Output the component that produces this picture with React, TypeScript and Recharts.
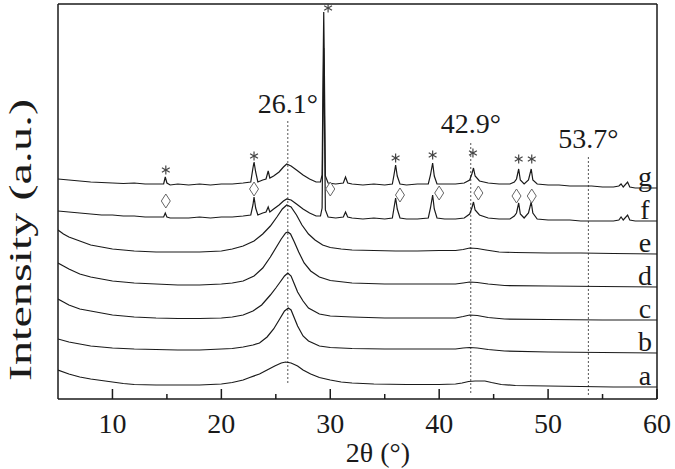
import React from 'react';
import {
  LineChart,
  Line,
  Scatter,
  XAxis,
  YAxis,
  ReferenceLine,
  Label,
} from 'recharts';

// 2θ ticks (major every 10, minor every 5)
const xTicks = [10, 15, 20, 25, 30, 35, 40, 45, 50, 55, 60];

// stacked XRD patterns, [2θ, intensity (a.u., offset)]
const traceA = [
  [5, 29], [6, 25], [7, 22], [8, 20], [9, 18.5], [10, 17], [11, 15.5], [12, 14.5], [14, 14], [16, 14],
  [18, 14], [20, 15], [21, 16.5], [22, 19], [22.6, 21.5], [23.5, 25], [24.2, 29], [24.9, 33], [25.5, 36],
  [25.9, 37], [26.4, 36], [27, 33], [27.5, 29], [28.2, 25], [29, 21.5], [30, 19], [31, 17], [32, 16],
  [34, 15], [37, 14.5], [40, 14.5], [41.5, 15], [42.1, 16], [42.7, 17.5], [43.3, 18], [44.2, 18],
  [44.8, 16.5], [45.7, 14.5], [47, 13.5], [50, 13], [53, 12.5], [56, 12], [60, 12],
];
const traceB = [
  [5, 60], [6, 57], [7, 55], [8, 53], [9, 52], [10, 51], [12, 50], [14, 49.5], [16, 49], [18, 49],
  [20, 50], [21, 50.5], [22, 52], [22.9, 54], [23.5, 56], [24.2, 62], [24.8, 70], [25.3, 79], [25.8, 88],
  [26.15, 91], [26.4, 89], [26.7, 81], [27, 73], [27.5, 63], [28, 58], [29, 53], [30, 51.5], [32, 50.5],
  [35, 50], [38, 50], [41.5, 50], [42.2, 51], [42.8, 51.5], [43.5, 51], [44.5, 49.5], [46, 48],
  [50, 47], [55, 46.5], [60, 46],
];
const traceC = [
  [5, 100], [5.5, 97], [6, 94], [7, 90], [8, 88], [9, 86], [10, 84], [11, 83], [12, 82], [14, 81],
  [16, 80.5], [18, 80.5], [20, 81], [21, 82], [22, 84], [22.9, 88], [23.7, 94], [24.5, 104], [25, 111],
  [25.4, 117], [25.8, 123], [26.1, 126], [26.4, 123], [26.7, 115], [27, 107], [27.5, 98], [28, 91],
  [29, 85], [30, 83], [32, 82], [35, 81], [38, 81], [41.5, 81], [42.2, 82.5], [42.8, 84], [43.5, 83.5],
  [44.5, 81.5], [46, 80], [50, 79.5], [55, 79], [60, 79],
];
const traceD = [
  [5, 136], [5.5, 133], [6, 130], [7, 125], [8, 122], [9, 120], [10, 118], [11, 117], [12, 116],
  [14, 115], [16, 114], [18, 114], [20, 115], [21, 116], [22, 118], [23, 123], [23.8, 131], [24.5, 142],
  [25, 151], [25.5, 160], [25.9, 166], [26.1, 167], [26.35, 165], [26.7, 157], [27.1, 147], [27.6, 136],
  [28.2, 128], [29, 122], [30, 118.5], [32, 116], [35, 115], [38, 115], [41.5, 115], [42.2, 116],
  [42.8, 117], [43.5, 116.5], [44.5, 115], [46, 113.5], [50, 113], [55, 112.5], [60, 112],
];
const traceE = [
  [5, 169], [5.5, 165], [6, 162], [7, 158], [8, 154], [9, 152], [10, 150], [11, 149], [12, 148],
  [13, 147.5], [14, 147], [16, 147], [18, 147], [19, 147.5], [20, 148], [21, 150], [22, 153], [23, 158],
  [23.8, 165], [24.5, 173], [25.1, 182], [25.6, 190], [26, 194], [26.4, 192], [26.9, 184], [27.4, 174],
  [28, 165], [28.6, 159], [29.3, 154], [30, 151.5], [31, 150], [32, 149], [34, 148.5], [36, 148],
  [38, 148], [40, 148.5], [41.5, 148.5], [42.2, 149.5], [42.8, 151], [43.5, 150.5], [44.3, 149],
  [45.5, 147], [47, 146.5], [50, 146], [53, 146], [56, 145.5], [60, 145],
];
const traceF = [
  [5, 188], [6, 187], [7, 186], [8, 185], [9, 184], [10, 184], [11, 183], [12, 183], [13, 182], [14, 182],
  [14.7, 182], [14.85, 186], [15, 182], [15.3, 181], [16, 181], [17, 181], [18, 182], [19, 181], [20, 182],
  [21, 182], [22, 183], [22.7, 184], [22.9, 194], [23, 202], [23.15, 191], [23.35, 184], [23.8, 186],
  [24.1, 187], [24.3, 192], [24.45, 187], [24.8, 190], [25.3, 194], [25.7, 198], [26, 200], [26.4, 199],
  [26.9, 195], [27.5, 190], [28.1, 186], [28.7, 183], [29.1, 183], [29.25, 191], [29.35, 299], [29.4, 351],
  [29.45, 299], [29.55, 189], [29.8, 182], [30.5, 181], [31.2, 182], [31.4, 187], [31.6, 182], [32, 181],
  [33, 180], [34, 181], [35, 180], [35.7, 181], [35.85, 191], [36, 201], [36.15, 190], [36.4, 181],
  [37, 180], [38, 180], [39, 181], [39.2, 191], [39.4, 204], [39.55, 190], [39.8, 181], [40.5, 180],
  [41.5, 180], [42.3, 181], [42.8, 185], [43, 191], [43.15, 197], [43.3, 189], [43.7, 184], [44.5, 181],
  [45.5, 180], [46.5, 180], [46.9, 183], [47.1, 186], [47.3, 196], [47.45, 185], [47.8, 181], [48.2, 186],
  [48.45, 197], [48.6, 186], [49, 180], [50, 179], [51, 179], [52, 179], [53, 178], [54, 178], [55, 178],
  [56, 178], [56.5, 179], [56.7, 182], [56.9, 179], [57.3, 184], [57.5, 179], [58, 178], [59, 178], [60, 178],
];
const traceG = [
  [5, 220], [6, 219], [7, 218], [8, 217], [9, 216.5], [10, 216], [11, 215.5], [12, 216], [13, 215], [14, 215],
  [14.7, 215], [14.85, 222], [15, 216], [15.3, 214], [16, 215], [17, 214], [18, 215], [19, 214], [20, 215],
  [21, 215], [22, 216], [22.7, 217], [22.9, 231], [23, 237], [23.15, 227], [23.35, 217], [23.8, 219],
  [24.1, 220], [24.3, 228], [24.45, 221], [24.8, 223], [25.3, 227], [25.7, 232], [26, 235], [26.4, 233],
  [26.9, 229], [27.5, 224], [28.1, 220], [28.7, 217], [29.1, 217], [29.25, 224], [29.35, 339], [29.4, 387],
  [29.45, 339], [29.55, 223], [29.8, 216], [30.5, 215], [31.2, 216], [31.4, 222], [31.6, 216], [32, 215],
  [33, 214], [34, 215], [35, 214], [35.7, 215], [35.85, 224], [36, 234], [36.15, 223], [36.4, 215],
  [37, 214], [38, 215], [39, 215], [39.2, 224], [39.4, 236], [39.55, 223], [39.8, 215], [40.5, 215],
  [41.5, 215], [42.3, 216], [42.8, 219], [43, 225], [43.15, 231], [43.3, 223], [43.7, 218], [44.5, 216],
  [45.5, 215], [46.5, 215], [46.9, 217], [47.1, 220], [47.3, 230], [47.45, 219], [47.8, 215], [48.2, 219],
  [48.45, 230], [48.6, 219], [49, 215], [50, 214], [51, 214], [52, 213], [53, 213], [54, 213], [55, 212],
  [56, 212], [56.5, 213], [56.7, 215], [56.9, 212], [57.3, 217], [57.5, 212], [58, 211], [59, 211], [60, 211],
];

const traceNames = ['a', 'b', 'c', 'd', 'e', 'f', 'g'];
const traces = [traceA, traceB, traceC, traceD, traceE, traceF, traceG];

// peak markers: * on g, ◊ on f
const starPeaks = [
  [14.9, 229], [23.0, 243], [29.8, 391], [36.0, 241], [39.4, 244], [43.1, 246], [47.3, 240], [48.5, 240],
];
const diamondPeaks = [
  [14.9, 198], [23.0, 210], [30.0, 210], [36.4, 204], [40.0, 206], [43.6, 206], [47.1, 203], [48.5, 203],
];

// dotted guide lines: position, bottom, top
const guides = [
  { x: 26.1, y1: 16, y2: 279, text: '26.1°', offset: 7 },
  { x: 42.9, y1: 6, y2: 256, text: '42.9°', offset: 10 },
  { x: 53.7, y1: 4, y2: 244, text: '53.7°', offset: 7 },
];

const FONT = "'Liberation Serif', 'Times New Roman', serif";
const INK = '#1a1a1a';

const toPts = (arr: number[][]) => arr.map(([x, y]) => ({ x, y }));

const AxisTick = (props: any) => {
  const { x, y, payload } = props;
  const major = payload.value % 10 === 0;
  return (
    <g>
      <line x1={x} y1={y} x2={x} y2={y - (major ? 10 : 5)} stroke={INK} strokeWidth={1.5} />
      {major && (
        <text x={x} y={y + 34} textAnchor="middle" style={{ fontFamily: FONT }} fontSize={28} fill={INK}>
          {payload.value}
        </text>
      )}
    </g>
  );
};

const Star = (props: any) => {
  const { cx, cy } = props;
  const r = 4.5;
  return (
    <g stroke="#444" strokeWidth={1.2}>
      <line x1={cx} y1={cy - r} x2={cx} y2={cy + r} />
      <line x1={cx - r * 0.87} y1={cy - r / 2} x2={cx + r * 0.87} y2={cy + r / 2} />
      <line x1={cx - r * 0.87} y1={cy + r / 2} x2={cx + r * 0.87} y2={cy - r / 2} />
    </g>
  );
};

const Diamond = (props: any) => {
  const { cx, cy } = props;
  return (
    <polygon
      points={`${cx},${cy - 7} ${cx + 4.5},${cy} ${cx},${cy + 7} ${cx - 4.5},${cy}`}
      fill="#fff"
      stroke="#666"
      strokeWidth={1}
    />
  );
};

const nameLabel = (name: string, n: number) => (p: any) => {
  if (p.index !== n - 1) return <g />;
  return (
    <text x={p.x - 12} y={p.y - 2} textAnchor="middle" style={{ fontFamily: FONT }} fontSize={28} fill={INK}>
      {name}
    </text>
  );
};

export default function App() {
  return (
    <div
      style={{
        position: 'absolute',
        left: 0,
        top: 0,
        background: '#fff',
        width: 675,
        height: 469,
        fontFamily: FONT,
      }}
    >
      <LineChart width={675} height={469} margin={{ top: 3, right: 17, bottom: 69, left: 57 }}>
        <XAxis
          xAxisId="b"
          type="number"
          dataKey="x"
          domain={[5, 60]}
          ticks={xTicks}
          interval={0}
          allowDataOverflow
          height={1}
          tickSize={0}
          tickMargin={0}
          tickLine={false}
          tick={<AxisTick />}
          axisLine={{ stroke: INK, strokeWidth: 1.5 }}
        />
        <XAxis
          xAxisId="t"
          orientation="top"
          type="number"
          dataKey="x"
          domain={[5, 60]}
          height={1}
          tick={false}
          tickLine={false}
          axisLine={{ stroke: INK, strokeWidth: 1.5 }}
        />
        <YAxis
          yAxisId="l"
          type="number"
          dataKey="y"
          domain={[0, 395]}
          width={1}
          tick={false}
          tickLine={false}
          axisLine={{ stroke: INK, strokeWidth: 1.5 }}
        />
        <YAxis
          yAxisId="r"
          orientation="right"
          type="number"
          domain={[0, 395]}
          width={1}
          tick={false}
          tickLine={false}
          axisLine={{ stroke: INK, strokeWidth: 1.5 }}
        />

        {guides.map((g) => (
          <ReferenceLine
            key={g.text}
            xAxisId="b"
            yAxisId="l"
            segment={[{ x: g.x, y: g.y1 }, { x: g.x, y: g.y2 }]}
            stroke="#555"
            strokeWidth={1}
            strokeDasharray="2 2"
          >
            <Label
              value={g.text}
              position="top"
              offset={g.offset}
              fontSize={28}
              fill={INK}
              style={{ fontFamily: FONT }}
            />
          </ReferenceLine>
        ))}

        {traces.map((t, i) => (
          <Line
            key={traceNames[i]}
            xAxisId="b"
            yAxisId="l"
            data={toPts(t)}
            dataKey="y"
            type="linear"
            stroke={INK}
            strokeWidth={1.2}
            dot={false}
            activeDot={false}
            isAnimationActive={false}
            label={nameLabel(traceNames[i], t.length)}
          />
        ))}

        <Scatter
          xAxisId="b"
          yAxisId="l"
          data={toPts(diamondPeaks)}
          dataKey="y"
          shape={<Diamond />}
          isAnimationActive={false}
        />
        <Scatter
          xAxisId="b"
          yAxisId="l"
          data={toPts(starPeaks)}
          dataKey="y"
          shape={<Star />}
          isAnimationActive={false}
        />
      </LineChart>
      <svg
        width={675}
        height={469}
        style={{ position: 'absolute', left: 0, top: 0, pointerEvents: 'none' }}
      >
        <text x={378} y={462} textAnchor="middle" fontSize={28} fill={INK} style={{ fontFamily: FONT }}>
          2θ (°)
        </text>
        <text
          x={31}
          y={240}
          transform="rotate(-90, 31, 240)"
          textAnchor="middle"
          fontSize={32}
          textLength={282}
          lengthAdjust="spacingAndGlyphs"
          fill={INK}
          style={{ fontFamily: FONT }}
        >
          Intensity (a.u.)
        </text>
      </svg>
    </div>
  );
}
